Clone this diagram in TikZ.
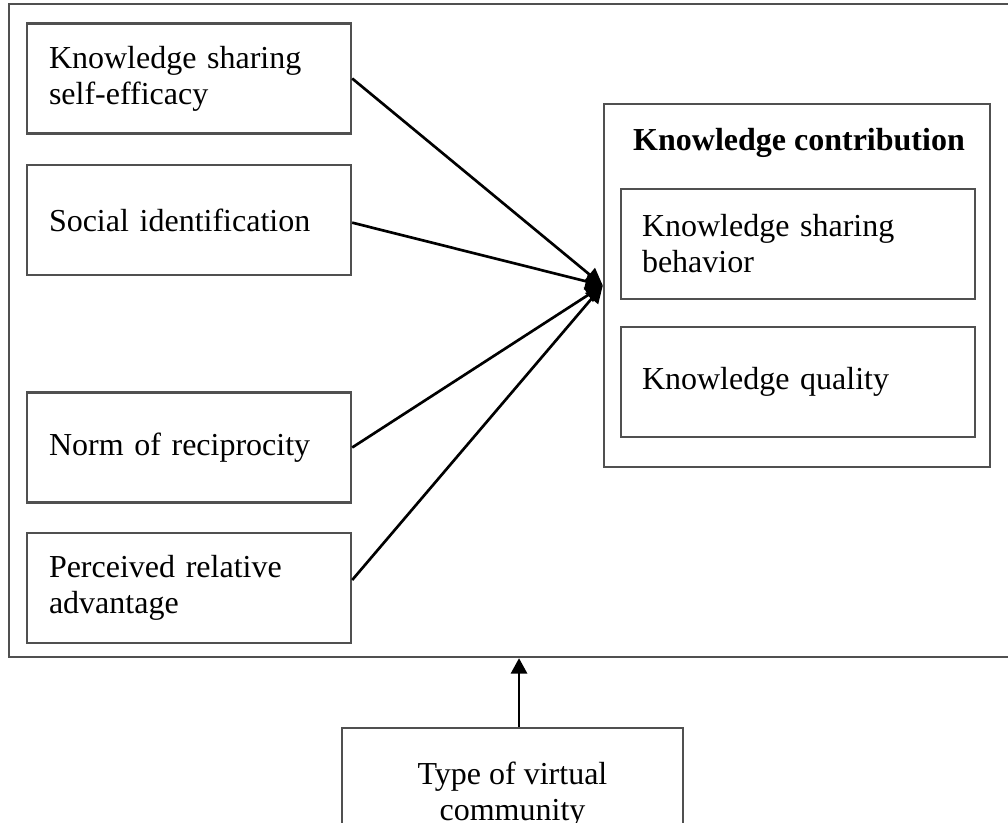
\documentclass[tikz,border=0pt]{standalone}
\usepackage{fontspec}
\setmainfont{Liberation Serif}
\usetikzlibrary{arrows.meta}
\definecolor{boxgray}{RGB}{80,80,80}
\tikzset{
  frame/.style={draw=boxgray, line width=1.8pt, inner sep=0pt},
  lbox/.style={frame, minimum width=243pt, minimum height=82.5pt, text width=210pt,
    inner xsep=16.5pt, inner ysep=0pt, align=left, font=\fontsize{24pt}{27pt}\selectfont},
  rbox/.style={frame, minimum width=265.5pt, minimum height=82.5pt, text width=234pt,
    inner xsep=15.75pt, inner ysep=0pt, align=left, font=\fontsize{24pt}{27pt}\selectfont},
  conn/.style={line width=2pt, -{Triangle[length=13pt,width=12.5pt]}}
}
\begin{document}
\begin{tikzpicture}[x=0.75pt,y=-0.75pt]
\useasboundingbox (0,0) rectangle (1008,823);
\clip (0,0) rectangle (1008,823);
% outer frame
\node[frame, minimum width=754.5pt, minimum height=489.75pt] (outer) at (512,330.5) {};
% left boxes
\node[lbox] (b1) at (189,78.5) {Knowledge sharing\\self-efficacy};
\node[lbox] (b2) at (189,220) {Social identification};
\node[lbox] (b3) at (189,447.5) {Norm of reciprocity};
\node[lbox] (b4) at (189,588) {Perceived relative\\advantage};
% knowledge contribution
\node[frame, minimum width=289.5pt, minimum height=272.25pt] (kc) at (797,285.5) {};
\node[font=\fontsize{24pt}{27pt}\selectfont\bfseries, inner sep=0pt] (kct) at (799,143) {Knowledge contribution};
\node[rbox] (ka) at (798,244) {Knowledge sharing\\behavior};
\node[rbox] (kb) at (798,382) {Knowledge quality};
% bottom box
\node[frame, minimum width=255.75pt, minimum height=99pt, align=center,
  font=\fontsize{24pt}{27pt}\selectfont, anchor=north] (tv) at (512.5,727) {Type of virtual\\community};
% connectors
\draw[conn] (b1.east) -- (kc.west);
\draw[conn] ([yshift=-2pt]b2.east) -- (kc.west);
\draw[conn] (b3.east) -- (kc.west);
\draw[conn] ([yshift=6pt]b4.east) -- (kc.west);
\coordinate (vs) at ([xshift=4.9pt]tv.north);
\draw[line width=2pt, -{Triangle[length=11.5pt,width=12pt]}] (vs) -- (vs |- outer.south);
\end{tikzpicture}
\end{document}
